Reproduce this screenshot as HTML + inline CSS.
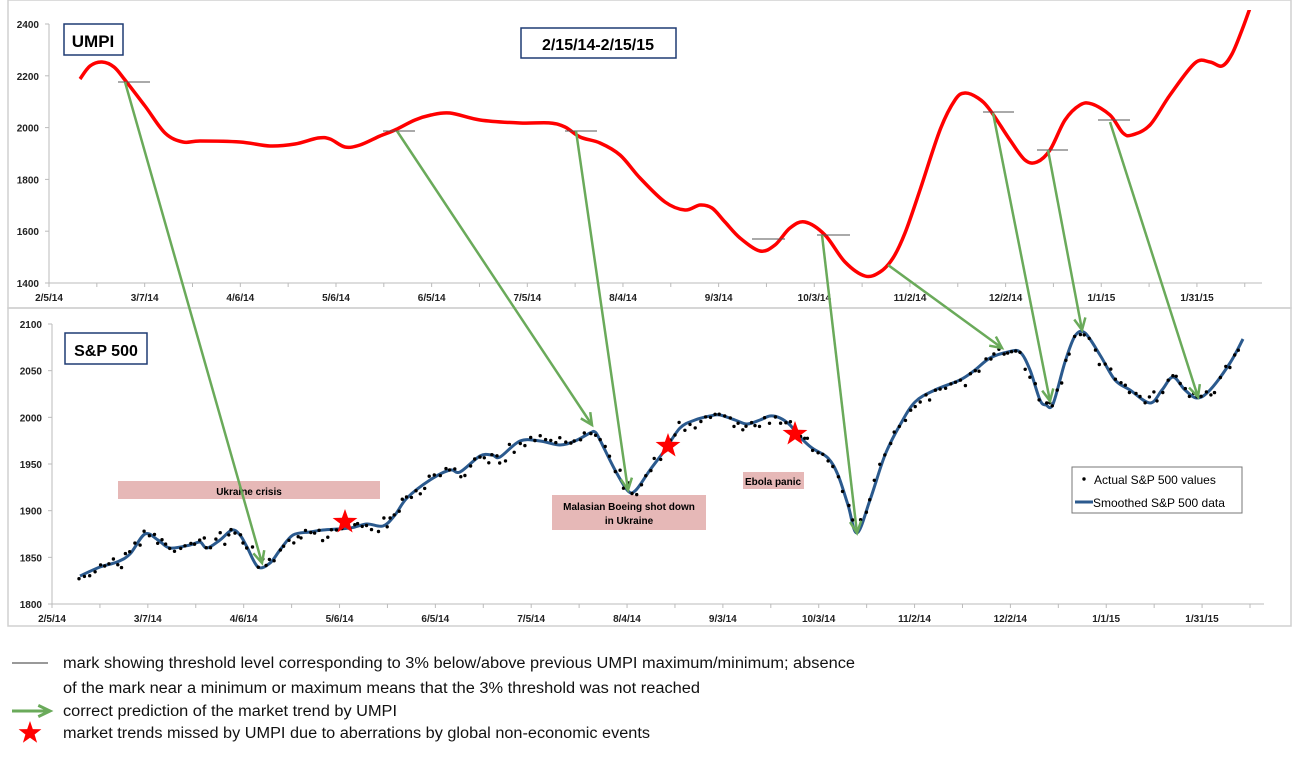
<!DOCTYPE html>
<html><head><meta charset="utf-8"><style>
html,body{margin:0;padding:0;background:#fff;}
body{width:1300px;height:754px;overflow:hidden;font-family:"Liberation Sans",sans-serif;}
</style></head><body>
<svg id="s" width="1300" height="754" xmlns="http://www.w3.org/2000/svg" font-family="Liberation Sans, sans-serif">
<rect x="8" y="0" width="1283" height="308" fill="none" stroke="#d0d0d0" stroke-width="1.5"/>
<rect x="8" y="308" width="1283" height="318" fill="none" stroke="#d0d0d0" stroke-width="1.5"/>
<g id="g"></g>
<line x1="12" y1="663" x2="48" y2="663" stroke="#333" stroke-width="1"/>
<g font-size="15.5" fill="#111">
<text x="63" y="668" textLength="792" lengthAdjust="spacingAndGlyphs">mark showing threshold level corresponding to 3% below/above previous UMPI maximum/minimum; absence</text>
<text x="63" y="693" textLength="637" lengthAdjust="spacingAndGlyphs">of the mark near a minimum or maximum means that the 3% threshold was not reached</text>
<text x="63" y="716" textLength="334" lengthAdjust="spacingAndGlyphs">correct prediction of the market trend by UMPI</text>
<text x="63" y="738" textLength="587" lengthAdjust="spacingAndGlyphs">market trends missed by UMPI due to aberrations by global non-economic events</text>
</g>
</svg>
<script>
const g=document.getElementById('g');let h='';
function cr(p){let d='M'+p[0][0]+','+p[0][1];for(let i=0;i<p.length-1;i++){const p0=p[i-1]||p[i],p1=p[i],p2=p[i+1],p3=p[i+2]||p2;
d+=' C'+(p1[0]+(p2[0]-p0[0])/6).toFixed(1)+','+(p1[1]+(p2[1]-p0[1])/6).toFixed(1)+' '+(p2[0]-(p3[0]-p1[0])/6).toFixed(1)+','+(p2[1]-(p3[1]-p1[1])/6).toFixed(1)+' '+p2[0]+','+p2[1];}return d;}
h+='<line x1="49" y1="24" x2="49" y2="283" stroke="#bbb"/><line x1="49" y1="283" x2="1262" y2="283" stroke="#bbb"/>';
[2400,2200,2000,1800,1600,1400].forEach((v,i)=>{const y=24+i*51.8;h+=`<line x1="45" y1="${y}" x2="49" y2="${y}" stroke="#bbb"/><text x="39" y="${y+4}" font-size="10" font-weight="bold" text-anchor="end" fill="#222">${v}</text>`;});
const labs=['2/5/14','3/7/14','4/6/14','5/6/14','6/5/14','7/5/14','8/4/14','9/3/14','10/3/14','11/2/14','12/2/14','1/1/15','1/31/15'];
for(let i=0;i<26;i++){const x=49+i*47.83;h+=`<line x1="${x}" y1="283" x2="${x}" y2="287" stroke="#bbb"/>`;}
labs.forEach((l,i)=>{h+=`<text x="${49+i*95.67}" y="301" font-size="10" font-weight="bold" text-anchor="middle" fill="#222">${l}</text>`;});
h+='<line x1="52" y1="324" x2="52" y2="604" stroke="#bbb"/><line x1="52" y1="604" x2="1264" y2="604" stroke="#bbb"/>';
[2100,2050,2000,1950,1900,1850,1800].forEach((v,i)=>{const y=324+i*46.67;h+=`<line x1="48" y1="${y}" x2="52" y2="${y}" stroke="#bbb"/><text x="42" y="${y+4}" font-size="10" font-weight="bold" text-anchor="end" fill="#222">${v}</text>`;});
for(let i=0;i<26;i++){const x=52+i*47.92;h+=`<line x1="${x}" y1="604" x2="${x}" y2="608" stroke="#bbb"/>`;}
labs.forEach((l,i)=>{h+=`<text x="${52+i*95.83}" y="622" font-size="10" font-weight="bold" text-anchor="middle" fill="#222">${l}</text>`;});
h+='<rect x="64" y="24" width="59" height="31" fill="#fff" stroke="#1f3b73" stroke-width="1.5"/><text x="93" y="47" font-size="17" font-weight="bold" text-anchor="middle">UMPI</text>';
h+='<rect x="521" y="28" width="155" height="30" fill="#fff" stroke="#1f3b73" stroke-width="1.5"/><text x="598" y="50" font-size="16" font-weight="bold" text-anchor="middle">2/15/14-2/15/15</text>';
h+='<rect x="65" y="333" width="82" height="31" fill="#fff" stroke="#1f3b73" stroke-width="1.5"/><text x="106" y="356" font-size="16" font-weight="bold" text-anchor="middle">S&amp;P 500</text>';
h+='<rect x="118" y="481" width="262" height="18" fill="#e6b8b7"/><text x="249" y="495" font-size="10" font-weight="bold" text-anchor="middle">Ukraine crisis</text>';
h+='<rect x="552" y="495" width="154" height="35" fill="#e6b8b7"/><text x="629" y="510" font-size="10" font-weight="bold" text-anchor="middle">Malasian Boeing shot down</text><text x="629" y="524" font-size="10" font-weight="bold" text-anchor="middle">in Ukraine</text>';
h+='<rect x="743" y="472" width="61" height="17" fill="#e6b8b7"/><text x="773" y="485" font-size="10" font-weight="bold" text-anchor="middle">Ebola panic</text>';
const red=[[80,79],[90,66],[102,62],[114,67],[125,80],[145,106],[165,133],[183,142],[200,141],[240,142],[270,146],[295,144],[318,138],[330,139],[345,147],[360,145],[380,136],[395,130],[415,120],[431,115],[450,113],[480,120],[520,123],[550,123],[565,127],[580,137],[600,143],[620,155],[640,178],[665,202],[685,210],[700,205],[712,208],[725,222],[740,238],[760,251],[775,245],[790,228],[805,222],[825,235],[845,262],[865,276],[880,272],[893,258],[905,233],[920,190],[940,130],[955,100],[965,93],[978,98],[990,110],[1010,140],[1025,160],[1037,162],[1050,150],[1065,120],[1080,105],[1092,104],[1110,115],[1123,133],[1132,135],[1150,125],[1170,95],[1195,63],[1210,62],[1222,66],[1232,54],[1242,30],[1250,8]];
h+=`<clipPath id="c"><rect x="49" y="10" width="1240" height="280"/></clipPath><path clip-path="url(#c)" d="${cr(red)}" fill="none" stroke="#ff0000" stroke-width="3.5"/>`;
[[118,150,82],[383,415,131],[565,597,131],[752,785,239],[817,850,235],[983,1014,112],[1037,1068,150],[1098,1130,120]].forEach(t=>{h+=`<line x1="${t[0]}" y1="${t[2]}" x2="${t[1]}" y2="${t[2]}" stroke="#555" stroke-width="1"/>`;});
const blue=[[80,576],[100,567],[117,562],[130,554],[145,534],[158,540],[170,548],[190,545],[200,542],[207,548],[220,540],[232,530],[240,535],[247,547],[258,567],[270,563],[280,550],[293,535],[310,532],[323,530],[350,528],[367,524],[383,526],[395,515],[407,498],[430,480],[450,470],[460,472],[480,456],[492,455],[500,457],[520,441],[540,441],[560,445],[575,441],[590,433],[595,432],[600,440],[615,470],[628,491],[636,490],[650,470],[665,450],[680,428],[695,420],[710,416],[720,415],[735,420],[747,424],[760,420],[770,416],[780,418],[790,425],[800,437],[812,448],[828,458],[838,475],[848,505],[857,533],[870,500],[885,455],[900,425],[915,402],[935,390],[960,380],[975,370],[990,358],[1008,352],[1020,352],[1030,370],[1040,400],[1046,405],[1053,404],[1065,362],[1075,336],[1085,333],[1100,355],[1115,380],[1130,390],[1150,403],[1162,390],[1173,377],[1185,390],[1197,398],[1210,390],[1230,363],[1243,339]];
h+=`<path d="${cr(blue)}" fill="none" stroke="#2b5a8e" stroke-width="3"/>`;
let seed=7;function rnd(){seed=(seed*16807)%2147483647;return seed/2147483647;}
for(let i=0;i<blue.length-1;i++){const a=blue[i],b=blue[i+1];const n=Math.max(1,Math.round((b[0]-a[0])/4.6));
for(let k=0;k<n;k++){const t=k/n;const x=a[0]+(b[0]-a[0])*t+(rnd()-.5)*2;const y=a[1]+(b[1]-a[1])*t+(rnd()-.5)*(rnd()*22);h+=`<circle cx="${x.toFixed(1)}" cy="${y.toFixed(1)}" r="1.7" fill="#000"/>`;}}
function arrow(x1,y1,x2,y2,c,w){const a=Math.atan2(y2-y1,x2-x1),L=13,s=0.45;
return `<line x1="${x1}" y1="${y1}" x2="${x2}" y2="${y2}" stroke="${c}" stroke-width="${w}"/><polyline points="${x2-L*Math.cos(a-s)},${y2-L*Math.sin(a-s)} ${x2},${y2} ${x2-L*Math.cos(a+s)},${y2-L*Math.sin(a+s)}" fill="none" stroke="${c}" stroke-width="${w}"/>`;}
const gr='#6aaa5a';
[[125,82,262,563],[397,131,592,425],[576,131,628,490],[822,235,857,533],[888,265,1002,348],[993,113,1050,401],[1048,150,1082,330],[1110,122,1198,397]].forEach(a=>{h+=arrow(...a,gr,2.5);});
h+=arrow(12,711,50,711,gr,3);
function star(cx,cy,R){let p=[];for(let i=0;i<10;i++){const r=i%2?R*0.4:R;const an=-Math.PI/2+i*Math.PI/5;p.push((cx+r*Math.cos(an)).toFixed(1)+','+(cy+r*Math.sin(an)).toFixed(1));}return `<polygon points="${p.join(' ')}" fill="#ff0000"/>`;}
h+=star(345,522,13)+star(668,446,13)+star(795,434,13)+star(30,733,12);
h+='<rect x="1072" y="467" width="170" height="46" fill="#fff" stroke="#777"/><circle cx="1084" cy="479" r="1.7" fill="#000"/><text x="1094" y="484" font-size="12">Actual S&amp;P 500 values</text><line x1="1075" y1="502" x2="1093" y2="502" stroke="#2b5a8e" stroke-width="3"/><text x="1093" y="507" font-size="12">Smoothed S&amp;P 500 data</text>';
g.innerHTML=h;
</script>
</body></html>
